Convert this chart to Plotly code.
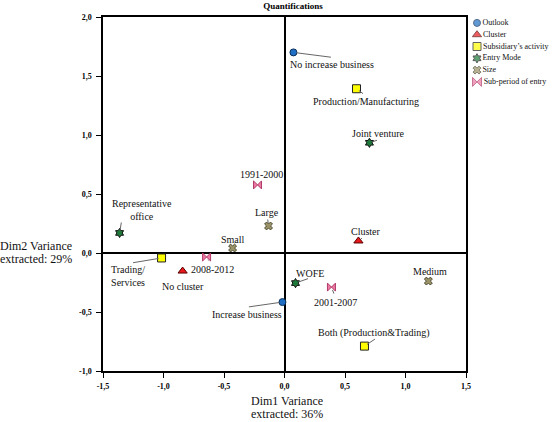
import plotly.graph_objects as go

# ---------------- data ----------------
outlook_labels = ["No increase business", "Increase business"]
outlook_x = [0.074, -0.017]
outlook_y = [1.70, -0.416]

cluster_labels = ["Cluster", "No cluster"]
cluster_x = [0.611, -0.842]
cluster_y = [0.102, -0.153]

activity_labels = ["Production/Manufacturing", "Trading/<br>Services", "Both (Production&Trading)"]
activity_x = [0.595, -1.016, 0.661]
activity_y = [1.392, -0.042, -0.789]

entry_labels = ["Joint venture", "Representative<br>office", "WOFE"]
entry_x = [0.702, -1.363, 0.091]
entry_y = [0.934, 0.170, -0.255]

size_labels = ["Large", "Small", "Medium"]
size_x = [-0.132, -0.429, 1.189]
size_y = [0.229, 0.042, -0.238]

period_labels = ["1991-2000", "2008-2012", "2001-2007"]
period_x = [-0.223, -0.644, 0.388]
period_y = [0.577, -0.034, -0.289]

legend_names = ["Outlook", "Cluster", "Subsidiary\u2019s activity", "Entry Mode", "Size", "Sub-period of entry"]

x_ticks = [-1.5, -1.0, -0.5, 0.0, 0.5, 1.0, 1.5]
y_ticks = [-1.0, -0.5, 0.0, 0.5, 1.0, 1.5, 2.0]

title_text = "Quantifications"
x_title_lines = ["Dim1 Variance", "extracted: 36%"]
y_title_lines = ["Dim2 Variance", "extracted: 29%"]

# ---------------- styles ----------------
FONT = "'Liberation Serif', 'Times New Roman', Times, serif"
styles = [
    dict(symbol="circle", color="#1f6fc4", line="#0b2f5a", size=7),
    dict(symbol="triangle-up", color="#e8181c", line="#5a0000", size=8),
    dict(symbol="square", color="#ffff00", line="#222222", size=8),
    dict(symbol="hexagram", color="#1e7a3a", line="#111111", size=7),
    dict(symbol="x", color="#9c9468", line="#4a4a30", size=7),
    dict(symbol="bowtie", color="#ec7aa2", line="#b03a68", size=8),
]

# label offsets in pixels (text dx, dy down) and leader line end (lx, ly) or None
label_pos = {
    "No increase business": ((39, 12), (39, 5)),
    "Increase business": ((-35, 12), (-35, 5)),
    "Cluster": ((8, -9), (5, -4)),
    "No cluster": ((0, 15), None),
    "Production/Manufacturing": ((9, 13), (8, 6)),
    "Trading/<br>Services": ((-34, 18), (-30, 5)),
    "Both (Production&Trading)": ((10, -13), (12, -8)),
    "Joint venture": ((9, -9), (9, -3)),
    "Representative<br>office": ((22, -23), (2, -12)),
    "WOFE": ((14, -10), (14, -5)),
    "Large": ((-2, -13), (-1, -8)),
    "Small": ((0, -9), None),
    "Medium": ((2, -10), None),
    "1991-2000": ((4, -10), None),
    "2008-2012": ((6, 12), (3, 5)),
    "2001-2007": ((4, 15), (3, 8)),
}

groups = [
    (outlook_labels, outlook_x, outlook_y),
    (cluster_labels, cluster_x, cluster_y),
    (activity_labels, activity_x, activity_y),
    (entry_labels, entry_x, entry_y),
    (size_labels, size_x, size_y),
    (period_labels, period_x, period_y),
]

fig = go.Figure()
annotations = []
for (labels, xs, ys), st, name in zip(groups, styles, legend_names):
    fig.add_trace(go.Scatter(
        x=xs, y=ys, mode="markers", name=name, showlegend=False,
        marker=dict(symbol=st["symbol"], color=st["color"], size=st["size"],
                    line=dict(color=st["line"], width=1)),
        cliponaxis=False,
    ))
    for lab, xv, yv in zip(labels, xs, ys):
        (dx, dy), line = label_pos[lab]
        if line is not None:
            annotations.append(dict(
                x=xv, y=yv, xref="x", yref="y", text="", showarrow=True,
                ax=line[0], ay=line[1], arrowhead=0, arrowwidth=1,
                arrowcolor="#666666", standoff=3,
            ))
        annotations.append(dict(
            x=xv, y=yv, xref="x", yref="y", text=lab, showarrow=False,
            xshift=dx, yshift=-dy, font=dict(family=FONT, size=10, color="#111111"),
        ))

# custom legend drawn in an inset axis
fig.add_trace(go.Scatter(
    x=[0 for _ in legend_names], y=legend_names, xaxis="x2", yaxis="y2",
    mode="markers+text", text=legend_names, textposition="middle right",
    textfont=dict(family=FONT, size=8, color="#111111"),
    marker=dict(symbol=[s["symbol"] for s in styles],
                color=[s["color"] for s in styles],
                size=[7, 8, 8, 7, 7, 9],
                line=dict(color=[s["line"] for s in styles], width=1)),
    showlegend=False, cliponaxis=False,
))

def fmt(v):
    return f"{v:.1f}".replace(".", ",")

plot_w = 553 - 103
plot_h = 422 - 17 - 51
main_right = (466 - 103) / plot_w

for i, txt in enumerate(x_title_lines):
    annotations.append(dict(
        x=(287 - 103) / plot_w, y=0, xref="paper", yref="paper",
        xanchor="center", yanchor="middle",
        yshift=-(30 + 13 * i), text=txt, showarrow=False,
        font=dict(family=FONT, size=12, color="#111111"),
    ))
for i, txt in enumerate(y_title_lines):
    annotations.append(dict(
        x=(36 - 103) / plot_w, y=(371 - 246) / plot_h, xref="paper", yref="paper",
        xanchor="center", yanchor="middle", yshift=-13 * i,
        text=txt, showarrow=False,
        font=dict(family=FONT, size=12, color="#111111"),
    ))

axis_common = dict(
    showgrid=False, zeroline=True, zerolinecolor="black", zerolinewidth=2,
    showline=True, linecolor="black", linewidth=1.5, mirror=True,
    ticks="outside", ticklen=5, tickwidth=1.2, tickcolor="black",
    tickfont=dict(family=FONT, size=8, color="black", weight="bold"),
)

fig.update_layout(
    width=553, height=422,
    margin=dict(l=103, r=0, t=17, b=51, autoexpand=False),
    plot_bgcolor="white", paper_bgcolor="white",
    font=dict(family=FONT),
    title=dict(text="<b>" + title_text + "</b>", x=293 / 553, xanchor="center",
               y=1 - 6 / 422, yanchor="middle", yref="container",
               font=dict(family=FONT, size=9, color="black")),
    xaxis=dict(range=[-1.5, 1.5], domain=[0, main_right], tickvals=x_ticks,
               ticktext=[fmt(v) for v in x_ticks], ticklabelstandoff=2, **axis_common),
    yaxis=dict(range=[-1.0, 2.0], tickvals=y_ticks,
               ticktext=[fmt(v) for v in y_ticks], ticklabelstandoff=3, **axis_common),
    xaxis2=dict(domain=[(477 - 103) / plot_w - 0.005, (477 - 103) / plot_w + 0.005],
                range=[-1, 1], visible=False, anchor="y2"),
    yaxis2=dict(domain=[0.80, 1.0], type="category", categoryorder="array",
                categoryarray=legend_names,
                range=[len(legend_names) - 0.5, -0.5],
                visible=False, anchor="x2"),
    annotations=annotations,
    showlegend=False,
)

fig.write_html("out.html", config={"displayModeBar": False},
               post_script="document.body.style.margin='0';document.body.style.padding='0';")
